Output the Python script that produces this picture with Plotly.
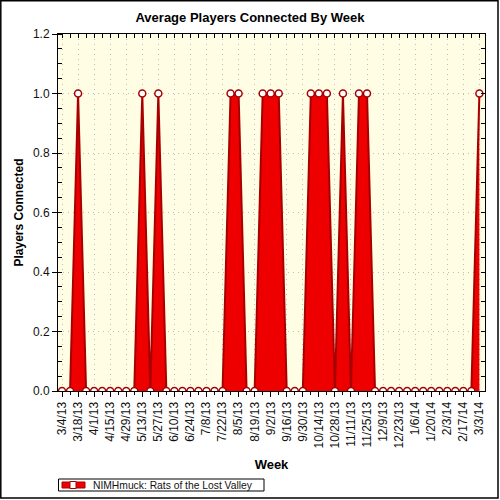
import plotly.graph_objects as go

weeks = ["3/4/13", "3/11/13", "3/18/13", "3/25/13", "4/1/13", "4/8/13", "4/15/13", "4/22/13",
         "4/29/13", "5/6/13", "5/13/13", "5/20/13", "5/27/13", "6/3/13", "6/10/13", "6/17/13",
         "6/24/13", "7/1/13", "7/8/13", "7/15/13", "7/22/13", "7/29/13", "8/5/13", "8/12/13",
         "8/19/13", "8/26/13", "9/2/13", "9/9/13", "9/16/13", "9/23/13", "9/30/13", "10/7/13",
         "10/14/13", "10/21/13", "10/28/13", "11/4/13", "11/11/13", "11/18/13", "11/25/13",
         "12/2/13", "12/9/13", "12/16/13", "12/23/13", "12/30/13", "1/6/14", "1/13/14",
         "1/20/14", "1/27/14", "2/3/14", "2/10/14", "2/17/14", "2/24/14", "3/3/14"]

players = [0, 0, 1, 0, 0, 0, 0, 0, 0, 0, 1, 0, 1, 0, 0, 0, 0, 0, 0, 0, 0, 1, 1, 0, 0, 1, 1, 1,
           0, 0, 0, 1, 1, 1, 0, 1, 0, 1, 1, 0, 0, 0, 0, 0, 0, 0, 0, 0, 0, 0, 0, 0, 1]

series_name = "NIMHmuck: Rats of the Lost Valley"

idx = list(range(len(weeks)))
label_idx = idx[::2]
label_text = weeks[::2]

FONT = "Arial, Liberation Sans, sans-serif"
RED = "#ee0000"
DARK = "#a80000"
GRID = "#bdbdbd"
GRIDDASH = "1px,4px"

# plot-area geometry (pixels) used to place the legend box and outer frame
L, R, T, B = 58, 485, 34, 391
def px(x):
    return (x - L) / (R - L)
def py(y):
    return (B - y) / (B - T)

fig = go.Figure()
fig.add_trace(go.Scatter(
    x=idx, y=players, name=series_name, mode="lines+markers",
    fill="tozeroy", fillcolor=RED,
    line=dict(color=DARK, width=2),
    marker=dict(symbol="circle", size=7, color="white", line=dict(color=DARK, width=1.5)),
    showlegend=False,
))
# invisible copy to carry the mirrored (inside) tick axes
fig.add_trace(go.Scatter(
    x=idx, y=players, xaxis="x2", yaxis="y2", mode="markers",
    marker=dict(opacity=0), showlegend=False, hoverinfo="skip",
))

xr = [-0.5, 52.7]
yr = [0, 1.2]

fig.update_layout(
    width=500, height=500,
    margin=dict(l=L, r=500 - R, t=T, b=500 - B, autoexpand=False),
    paper_bgcolor="white",
    plot_bgcolor="#fffde4",
    font=dict(family=FONT, size=12, color="#111"),
    showlegend=False,
    title=dict(text="<b>Average Players Connected By Week</b>", x=0.5, xref="container",
               xanchor="center", y=1 - 17 / 500, yref="container", yanchor="middle",
               font=dict(size=13, color="black")),
    xaxis=dict(
        range=xr, tickmode="array", tickvals=label_idx, ticktext=label_text,
        tickangle=-90, tickfont=dict(size=12), ticks="outside", ticklen=5, tickcolor="black",
        minor=dict(tickmode="array", tickvals=idx, ticks="outside", ticklen=3, tickcolor="black",
                   showgrid=False),
        showgrid=True, gridcolor=GRID, griddash=GRIDDASH, gridwidth=1,
        showline=True, linecolor="black", linewidth=1, mirror=True,
        zeroline=False, automargin=False,
        title=dict(text="<b>Week</b>", font=dict(size=13, color="black"), standoff=12),
    ),
    yaxis=dict(
        range=yr, tickmode="linear", tick0=0, dtick=0.2, tickformat=".1f",
        tickfont=dict(size=12), ticks="outside", ticklen=5, tickcolor="black",
        minor=dict(dtick=0.05, ticks="inside", ticklen=4, tickcolor="black", showgrid=False),
        showgrid=True, gridcolor=GRID, griddash=GRIDDASH, gridwidth=1,
        showline=True, linecolor="black", linewidth=1, mirror=True,
        zeroline=False, automargin=False,
        title=dict(text="<b>Players Connected</b>", font=dict(size=12, color="black"), standoff=6),
    ),
    xaxis2=dict(
        overlaying="x", side="top", range=xr, tickmode="array", tickvals=idx,
        ticks="inside", ticklen=4, tickcolor="black", showticklabels=False,
        showgrid=False, zeroline=False, showline=False, automargin=False,
    ),
    yaxis2=dict(
        overlaying="y", side="right", range=yr, tickmode="linear", tick0=0, dtick=0.05,
        ticks="inside", ticklen=4, tickcolor="black", showticklabels=False,
        showgrid=False, zeroline=False, showline=False, automargin=False,
    ),
    shapes=[
        # outer frame of the chart
        dict(type="rect", xref="paper", yref="paper",
             x0=px(0.8), x1=px(498), y0=py(498), y1=py(0.8),
             line=dict(color="black", width=1.5), fillcolor="rgba(0,0,0,0)", layer="above"),
        # legend box
        dict(type="rect", xref="paper", yref="paper",
             x0=px(58.5), x1=px(264), y0=py(491), y1=py(479),
             line=dict(color="black", width=1), fillcolor="white", layer="above"),
        # legend key: red band with white square
        dict(type="rect", xref="paper", yref="paper",
             x0=px(62), x1=px(85), y0=py(488), y1=py(482),
             line=dict(color=DARK, width=1), fillcolor=RED, layer="above"),
        dict(type="rect", xref="paper", yref="paper",
             x0=px(70), x1=px(76), y0=py(488.5), y1=py(481.5),
             line=dict(color=DARK, width=1), fillcolor="white", layer="above"),
    ],
    annotations=[
        dict(text=series_name, xref="paper", yref="paper", x=px(91), y=py(485),
             xanchor="left", yanchor="middle", showarrow=False,
             font=dict(size=10.3, color="#111")),
    ],
)

fig.write_html("out.html")
